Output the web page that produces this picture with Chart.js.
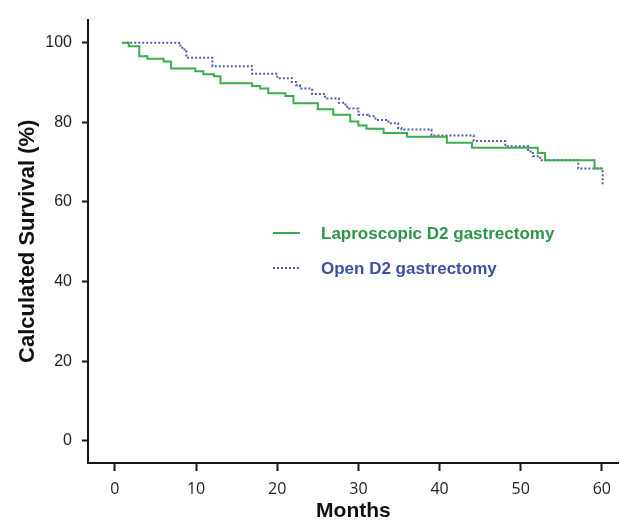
<!DOCTYPE html>
<html>
<head>
<meta charset="utf-8">
<title>Calculated survival</title>
<script src="https://cdn.jsdelivr.net/npm/chart.js@4.4.1/dist/chart.umd.min.js"></script>
<style>
  html, body { margin: 0; padding: 0; background: #fff; }
  #wrap { width: 620px; height: 524px; }
</style>
</head>
<body>
<div id="wrap"><canvas id="kmChart" width="620" height="524"></canvas></div>
<script>
// laparoscopic group - time of each step (months) and survival after it (%)
const lapMonths = [0.9, 1.7, 3.0, 4.0, 6.0, 6.9, 9.9, 10.9, 12.2, 13.0, 16.9, 17.9, 18.9, 21.0, 22.0,
  25.0, 26.9, 29.0, 30.0, 31.0, 33.1, 36.0, 40.9, 44.0, 52.1, 53.0, 59.1, 60.1];
const lapSurvival = [100, 99.1, 96.6, 96.0, 95.3, 93.5, 92.8, 92.1, 91.6, 89.8, 89.1, 88.5, 87.3, 86.6, 84.8,
  83.3, 81.9, 80.2, 79.2, 78.4, 77.3, 76.4, 74.9, 73.6, 72.3, 70.5, 68.4, 68.4];

// open group
const openMonths = [0.9, 7.9, 8.3, 8.8, 12.0, 16.9, 20.0, 21.8, 22.3, 22.8, 24.3, 25.9, 27.6, 28.4, 28.8,
  30.0, 31.2, 32.1, 33.7, 34.9, 35.3, 39.0, 44.2, 48.1, 50.9, 51.5, 52.4, 57.1, 60.1];
const openSurvival = [100, 99.3, 98.3, 96.2, 94.1, 92.2, 91.1, 90.1, 89.3, 88.5, 87.1, 86.0, 84.9, 83.9, 83.5,
  81.9, 81.5, 80.6, 79.8, 78.6, 78.2, 76.7, 75.3, 74.0, 72.7, 71.5, 70.5, 68.4, 64.0];

const xTicks = [0, 10, 20, 30, 40, 50, 60];
const yTicks = [0, 20, 40, 60, 80, 100];

const seriesNames = ['Laproscopic D2 gastrectomy', 'Open D2 gastrectomy'];

const toPoints = (xs, ys) => xs.map((x, i) => ({ x, y: ys[i] }));

const axisColor = '#161616';
const lapLine = '#3aae4c';
const openLine = '#5058ad';

// legend sits inside the plot, drawn by hand like the original figure
const insideLegend = {
  id: 'insideLegend',
  afterDraw(chart) {
    const { ctx } = chart;
    const items = [
      { text: seriesNames[0], line: lapLine, color: '#2b9648', dash: [], y: 233 },
      { text: seriesNames[1], line: openLine, color: '#3d4ea6', dash: [2, 2], y: 268 },
    ];
    ctx.save();
    ctx.font = 'bold 17px "Liberation Sans", Arial, sans-serif';
    ctx.textBaseline = 'middle';
    items.forEach((item) => {
      ctx.strokeStyle = item.line;
      ctx.lineWidth = 2;
      ctx.setLineDash(item.dash);
      ctx.beginPath();
      ctx.moveTo(273, item.y);
      ctx.lineTo(300, item.y);
      ctx.stroke();
      ctx.fillStyle = item.color;
      ctx.fillText(item.text, 321, item.y + 1);
    });
    ctx.restore();
  },
};

const ctx = document.getElementById('kmChart').getContext('2d');
const kmChart = new Chart(ctx, {
  type: 'line',
  data: {
    datasets: [
      {
        label: seriesNames[0],
        data: toPoints(lapMonths, lapSurvival),
        borderColor: lapLine,
        borderWidth: 2,
        stepped: 'before',
        pointRadius: 0,
        fill: false,
      },
      {
        label: seriesNames[1],
        data: toPoints(openMonths, openSurvival),
        borderColor: openLine,
        borderWidth: 2,
        borderDash: [2, 2],
        stepped: 'before',
        pointRadius: 0,
        fill: false,
      },
    ],
  },
  options: {
    responsive: false,
    animation: false,
    devicePixelRatio: 1,
    layout: { padding: { top: 15, right: 0, left: 0, bottom: 0 } },
    plugins: {
      legend: { display: false },
      tooltip: { enabled: false },
    },
    scales: {
      x: {
        type: 'linear',
        min: -3.32,
        max: 62.1,
        afterFit: (scale) => { scale.height = 61; },
        afterBuildTicks: (scale) => { scale.ticks = xTicks.map((v) => ({ value: v })); },
        border: { display: true, color: axisColor, width: 2 },
        grid: {
          drawOnChartArea: false, drawTicks: true, tickLength: 8, color: axisColor, tickWidth: 2,
        },
        ticks: {
          padding: 9,
          color: '#1e1e1e',
          font: { family: '"Open Sans", "Liberation Sans", sans-serif', size: 16 },
        },
        title: {
          display: true,
          text: 'Months',
          color: '#111',
          padding: { top: 0, bottom: 0 },
          font: { family: '"Liberation Sans", Arial, sans-serif', size: 21, weight: 'bold' },
        },
      },
      y: {
        type: 'linear',
        min: -5.54,
        max: 105.8,
        afterFit: (scale) => { scale.width = 88; },
        afterBuildTicks: (scale) => { scale.ticks = yTicks.map((v) => ({ value: v })); },
        border: { display: true, color: axisColor, width: 2 },
        grid: {
          drawOnChartArea: false, drawTicks: true, tickLength: 6, color: axisColor, tickWidth: 2,
        },
        ticks: {
          padding: 10,
          color: '#1e1e1e',
          font: { family: '"Liberation Sans", Arial, sans-serif', size: 16 },
        },
        title: {
          display: true,
          text: 'Calculated Survival (%)',
          color: '#111',
          padding: { top: 15, bottom: 0 },
          font: { family: '"Liberation Sans", Arial, sans-serif', size: 22, weight: 'bold' },
        },
      },
    },
  },
  plugins: [insideLegend],
});
</script>
</body>
</html>
